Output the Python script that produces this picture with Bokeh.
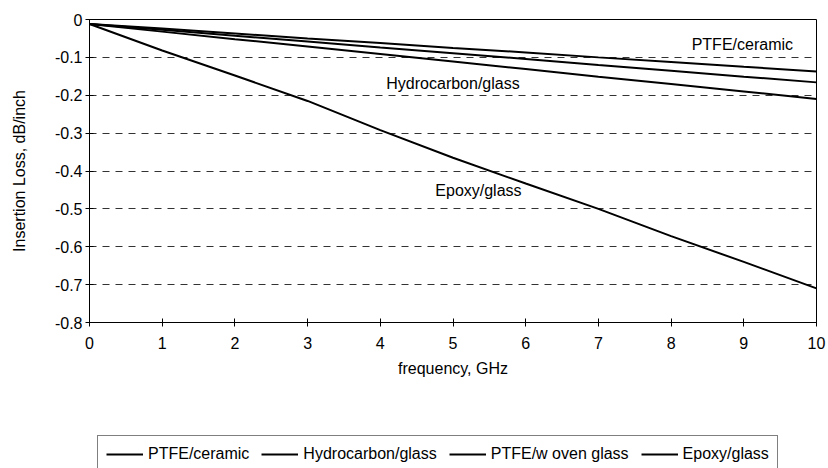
from bokeh.plotting import figure
from bokeh.layouts import column
from bokeh.models import Legend, LegendItem, Range1d, FixedTicker, Label
from bokeh.embed import file_html
from bokeh.resources import INLINE

freq = [0, 1, 2, 3, 4, 5, 6, 7, 8, 9, 10]
ptfe_ceramic = [-0.012, -0.024, -0.037, -0.050, -0.062, -0.075, -0.087, -0.100, -0.112, -0.125, -0.137]
hydrocarbon_glass = [-0.012, -0.032, -0.052, -0.071, -0.091, -0.111, -0.131, -0.151, -0.170, -0.190, -0.210]
ptfe_woven_glass = [-0.012, -0.027, -0.043, -0.058, -0.074, -0.089, -0.104, -0.120, -0.135, -0.151, -0.166]
epoxy_glass = [-0.012, -0.082, -0.148, -0.215, -0.292, -0.365, -0.433, -0.500, -0.572, -0.640, -0.710]

series_names = ["PTFE/ceramic", "Hydrocarbon/glass", "PTFE/w oven glass", "Epoxy/glass"]
y_ticks = [0, -0.1, -0.2, -0.3, -0.4, -0.5, -0.6, -0.7, -0.8]
y_tick_labels = ["0", "-0.1", "-0.2", "-0.3", "-0.4", "-0.5", "-0.6", "-0.7", "-0.8"]
x_ticks = [0, 1, 2, 3, 4, 5, 6, 7, 8, 9, 10]

FONT = "Liberation Sans"

p = figure(width=828, height=434, output_backend="svg", toolbar_location=None,
           x_range=Range1d(0, 10), y_range=Range1d(-0.8, 0),
           min_border_left=89, min_border_right=12, min_border_top=19, min_border_bottom=112)
p.frame_width = 727
p.frame_height = 303
p.frame_align = False

p.outline_line_color = "black"
p.outline_line_width = 1
p.background_fill_color = "white"
p.border_fill_color = "white"

p.xgrid.visible = False
p.ygrid.ticker = FixedTicker(ticks=y_ticks)
p.ygrid.grid_line_color = "#333333"
p.ygrid.grid_line_dash = "7 6"
p.ygrid.grid_line_width = 1

p.yaxis.ticker = FixedTicker(ticks=y_ticks)
p.yaxis.major_label_overrides = {t: l for t, l in zip(y_ticks, y_tick_labels)}
p.xaxis.ticker = FixedTicker(ticks=x_ticks)
for ax in (p.xaxis, p.yaxis):
    ax.axis_line_color = "black"
    ax.major_tick_line_color = "black"
    ax.minor_tick_line_color = None
    ax.major_tick_in = 4
    ax.major_tick_out = 4
    ax.major_label_text_font = FONT
    ax.major_label_text_font_size = "16px"
    ax.major_label_text_color = "black"
    ax.axis_label_text_font = FONT
    ax.axis_label_text_font_size = "16px"
    ax.axis_label_text_font_style = "normal"
    ax.axis_label_text_color = "black"

p.yaxis.axis_label = "Insertion Loss, dB/inch"
p.xaxis.axis_label = "frequency, GHz"
p.yaxis.major_label_standoff = 3
p.yaxis.axis_label_standoff = 24
p.xaxis.major_label_standoff = 10
p.xaxis.axis_label_standoff = 8

data = [ptfe_ceramic, hydrocarbon_glass, ptfe_woven_glass, epoxy_glass]
for ys in data:
    p.line(freq, ys, line_color="black", line_width=2)

labels = [("PTFE/ceramic", 8.98, -0.066), ("Hydrocarbon/glass", 5.0, -0.170), ("Epoxy/glass", 5.35, -0.451)]
for txt, x, y in labels:
    p.add_layout(Label(x=x, y=y, text=txt, text_font=FONT, text_font_size="16px",
                       text_align="center", text_baseline="middle", text_color="black"))

# legend strip below the chart (separate figure so the legend is not clipped);
# its ranges are set so the series lines themselves fall outside the strip's view
p2 = figure(width=828, height=34, output_backend="svg", toolbar_location=None,
            x_axis_location=None, y_axis_location=None,
            min_border_left=97, min_border_top=1, min_border_right=0, min_border_bottom=0,
            x_range=Range1d(0, 10), y_range=Range1d(10, 11))
p2.frame_align = False
p2.outline_line_color = None
p2.grid.visible = False
p2.background_fill_color = "white"
p2.border_fill_color = "white"
leg_renderers = [p2.line(freq, ys, line_color="black", line_width=2) for ys in data]

legend = Legend(items=[LegendItem(label=n, renderers=[r]) for n, r in zip(series_names, leg_renderers)],
                orientation="horizontal", location="top_left",
                label_text_font=FONT, label_text_font_size="16px", label_text_color="black",
                glyph_width=37, glyph_height=20, label_standoff=5, spacing=12,
                padding=8, margin=0, border_line_color="black", border_line_width=1,
                background_fill_color="white", label_height=20)
p2.add_layout(legend, "center")

open("out.html", "w").write(file_html(column(p, p2, spacing=0), INLINE))
